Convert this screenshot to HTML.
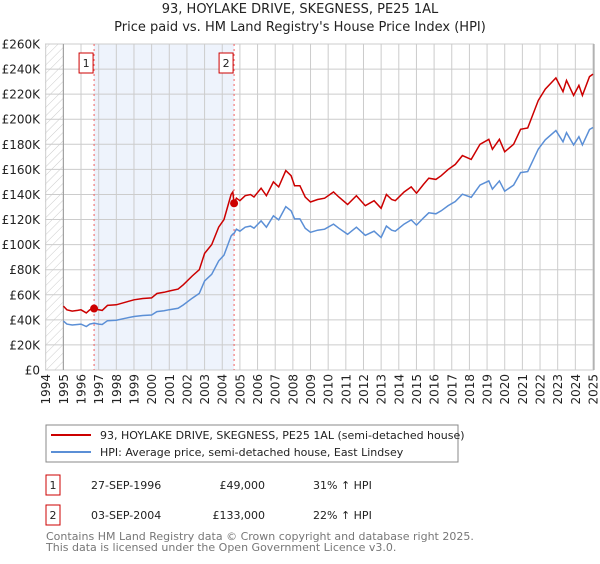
<!DOCTYPE html>
<html><head><meta charset="utf-8"><style>
body{margin:0;background:#fff;font-family:"DejaVu Sans","Liberation Sans",sans-serif;}
svg text{font-family:"DejaVu Sans","Liberation Sans",sans-serif;}
</style></head><body>
<svg id="c" width="600" height="560" xmlns="http://www.w3.org/2000/svg">
<defs><pattern id="hatch" width="6" height="6" patternUnits="userSpaceOnUse" patternTransform="rotate(45)"><line x1="0" y1="0" x2="0" y2="6" stroke="#ccc" stroke-width="1"/></pattern></defs>
<text x="300" y="13" text-anchor="middle" font-size="13" fill="#222">93, HOYLAKE DRIVE, SKEGNESS, PE25 1AL</text>
<text x="300" y="31" text-anchor="middle" font-size="13" fill="#222">Price paid vs. HM Land Registry's House Price Index (HPI)</text>
<g id="plot"></g>
<g>
<rect x="46" y="425" width="412" height="37" fill="#fff" stroke="#888"/>
<line x1="51" y1="435" x2="91" y2="435" stroke="#cc0000" stroke-width="2"/>
<text x="100" y="439" font-size="11" fill="#222">93, HOYLAKE DRIVE, SKEGNESS, PE25 1AL (semi-detached house)</text>
<line x1="51" y1="452" x2="91" y2="452" stroke="#5b8fd6" stroke-width="2"/>
<text x="100" y="456" font-size="11" fill="#222">HPI: Average price, semi-detached house, East Lindsey</text>
</g>
<g>
<rect x="46" y="475" width="14" height="20" fill="#fff" stroke="#cc0000"/>
<text x="53" y="489" text-anchor="middle" font-size="11" fill="#222">1</text>
<text x="91" y="489" font-size="11" fill="#222">27-SEP-1996</text>
<text x="265" y="489" text-anchor="end" font-size="11" fill="#222">£49,000</text>
<text x="313" y="489" font-size="11" fill="#222">31% ↑ HPI</text>
<rect x="46" y="505" width="14" height="20" fill="#fff" stroke="#cc0000"/>
<text x="53" y="519" text-anchor="middle" font-size="11" fill="#222">2</text>
<text x="91" y="519" font-size="11" fill="#222">03-SEP-2004</text>
<text x="265" y="519" text-anchor="end" font-size="11" fill="#222">£133,000</text>
<text x="313" y="519" font-size="11" fill="#222">22% ↑ HPI</text>
</g>
<text x="46" y="540" font-size="11" fill="#777">Contains HM Land Registry data © Crown copyright and database right 2025.</text>
<text x="46" y="551" font-size="11" fill="#777">This data is licensed under the Open Government Licence v3.0.</text>
</svg>
<script>
const years=[1995.0,1995.2,1995.5,1995.8,1996.0,1996.3,1996.5,1996.74,1997.0,1997.2,1997.5,1998.0,1998.5,1999.0,1999.5,2000.0,2000.3,2000.7,2001.0,2001.5,2001.8,2002.3,2002.7,2003.0,2003.4,2003.8,2004.1,2004.5,2004.6,2004.67,2004.8,2005.0,2005.3,2005.6,2005.8,2006.2,2006.5,2006.9,2007.2,2007.6,2007.9,2008.1,2008.4,2008.7,2009.0,2009.4,2009.8,2010.3,2010.6,2011.1,2011.6,2012.1,2012.6,2013.0,2013.3,2013.6,2013.8,2014.3,2014.7,2015.0,2015.4,2015.7,2016.1,2016.4,2016.8,2017.2,2017.6,2018.1,2018.6,2019.1,2019.3,2019.7,2020.0,2020.5,2020.9,2021.3,2021.9,2022.3,2022.9,2023.3,2023.5,2023.9,2024.2,2024.4,2024.8,2025.0];
const priceSeries=[51,48,47,47.5,48,45.5,48,49,48,47.5,51.5,52,54,56,57,57.5,61,62,63,64.5,68,75,80,93,100,114,120,140,142,133,137,135,139,140,138,145,139,150,146,159,155,147,147,138,134,136,137,142,138,132,139,131,135,129,140,136,135,142,146,141,148,153,152,155,160,164,171,168,180,184,176,184,174,180,192,193,215,224,233,222,231,219,227,219,234,236];
const hpiSeries=[39,36.6,35.9,36.3,36.6,34.7,36.6,37.4,36.6,36.3,39.3,39.7,41.2,42.7,43.5,43.9,46.6,47.3,48.1,49.2,51.9,57.3,61.1,71,76.3,87,91.6,106.9,108.4,109,112.3,110.7,113.9,114.8,113.1,118.9,113.9,123,119.7,130.3,127,120.5,120.5,113.1,109.8,111.5,112.3,116.4,113.1,108.2,113.9,107.4,110.7,105.7,114.8,111.5,110.7,116.4,119.7,115.6,121.3,125.4,124.6,127,131.1,134.4,140.2,137.7,147.5,150.8,144.3,150.8,142.6,147.5,157.4,158.2,176.2,183.6,191,182,189.3,179.5,186.1,179.5,191.8,193.4];
const yTicks=[0,20,40,60,80,100,120,140,160,180,200,220,240,260];
const yTickLabels=["£0","£20K","£40K","£60K","£80K","£100K","£120K","£140K","£160K","£180K","£200K","£220K","£240K","£260K"];
const xTicks=[1994,1995,1996,1997,1998,1999,2000,2001,2002,2003,2004,2005,2006,2007,2008,2009,2010,2011,2012,2013,2014,2015,2016,2017,2018,2019,2020,2021,2022,2023,2024,2025];
const saleYears=[1996.74,2004.67];
const salePrices=[49,133];
const saleLabels=["1","2"];

const L=45,R=594,T=44,B=370;
const x=v=>45.7+(v-1994)*(593-45.7)/31;
const y=v=>B-v*(B-T)/260;
const NS="http://www.w3.org/2000/svg";
const g=document.getElementById('plot');
function el(t,a){const e=document.createElementNS(NS,t);for(const k in a)e.setAttribute(k,a[k]);g.appendChild(e);return e;}

let e=el('rect',{x:L,y:T,width:R-L,height:B-T,fill:'#fff'});


e=el('rect',{x:x(saleYears[0]),y:T,width:x(saleYears[1])-x(saleYears[0]),height:B-T,fill:'#eef3fc'});


e=el('rect',{x:L,y:T,width:x(1995)-L,height:B-T,fill:'url(#hatch)'});


yTicks.forEach((v,i)=>{
  let l=el('line',{x1:L,x2:R,y1:y(v),y2:y(v),stroke:'#ccc','stroke-width':1});
  
  
  let t=el('text',{x:L-5,y:y(v)+4.5,'text-anchor':'end','font-size':12,fill:'#222'});
  t.textContent=yTickLabels[i];
  
  
});
xTicks.forEach(v=>{
  let l=el('line',{x1:x(v),x2:x(v),y1:T,y2:B,stroke:'#ccc','stroke-width':1});
  
  
  let t=el('text',{x:0,y:0,'text-anchor':'end','font-size':12,fill:'#222',transform:`translate(${x(v)+4.5},374) rotate(-90)`});
  t.textContent=v;
  
  
});
e=el('line',{x1:x(1995),x2:x(1995),y1:T,y2:B,stroke:'#999'});


e=el('line',{x1:R,x2:R,y1:T,y2:B,stroke:'#999'});


saleYears.forEach((s,i)=>{
  let l=el('line',{x1:x(s),x2:x(s),y1:T,y2:B,stroke:'#f06060','stroke-width':1,'stroke-dasharray':'2,3'});
  
  
  let r=el('rect',{x:x(s)-15,y:53,width:14,height:20,fill:'#fff',stroke:'#cc0000'});
  
  
  let t=el('text',{x:x(s)-8,y:67,'text-anchor':'middle','font-size':11,fill:'#222'});
  t.textContent=saleLabels[i];
  
  
});
const path=arr=>arr.map((v,i)=>(i?'L':'M')+x(years[i]).toFixed(1)+' '+y(v).toFixed(1)).join(' ');
e=el('path',{d:path(hpiSeries),fill:'none',stroke:'#5b8fd6','stroke-width':1.5});


e=el('path',{d:path(priceSeries),fill:'none',stroke:'#cc0000','stroke-width':1.5});


saleYears.forEach((s,i)=>{
  let c=el('circle',{cx:x(s),cy:y(salePrices[i]),r:4,fill:'#cc0000'});
  
  
});
</script>
</body></html>
